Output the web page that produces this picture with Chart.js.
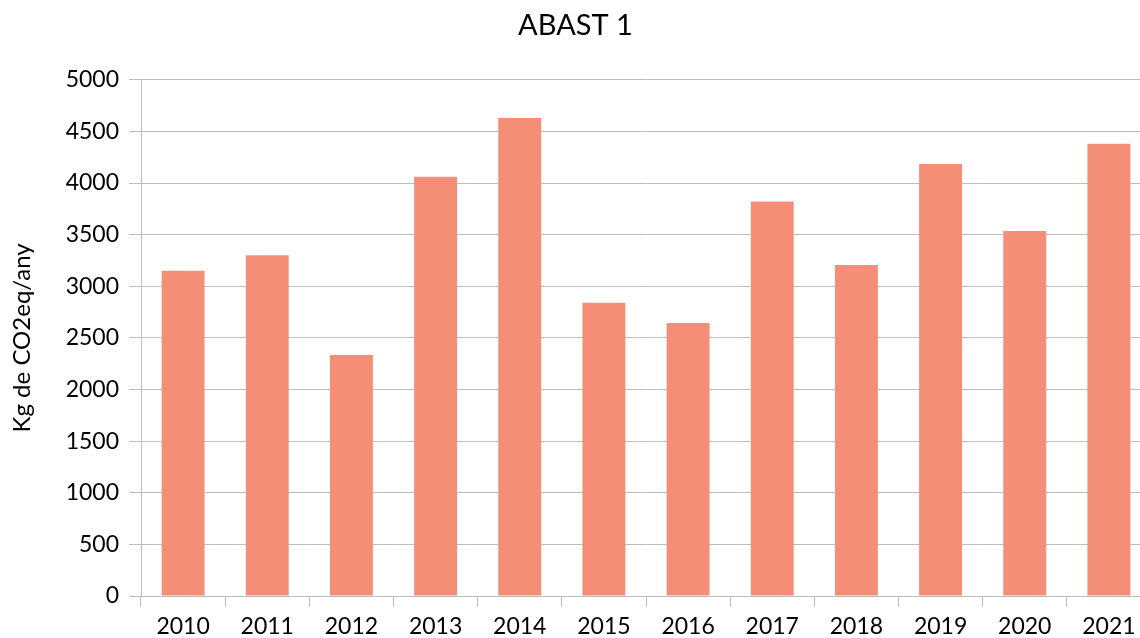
<!DOCTYPE html>
<html>
<head>
<meta charset="utf-8">
<script src="https://cdn.jsdelivr.net/npm/chart.js@4/dist/chart.umd.min.js"></script>
<style>
  html, body { margin: 0; padding: 0; background: #fff; overflow: hidden; }
  #wrap { width: 1140px; height: 638px; overflow: hidden; }
</style>
</head>
<body>
<div id="wrap"><canvas id="grafic" width="1151" height="638"></canvas></div>
<script>
// dades llegides del gràfic
const anys = ["2010", "2011", "2012", "2013", "2014", "2015", "2016", "2017", "2018", "2019", "2020", "2021"];
const emissions = [3150, 3300, 2335, 4060, 4630, 2840, 2645, 3820, 3205, 4185, 3535, 4380];
const titol = "ABAST 1";
const titolEix = "Kg de CO2eq/any";

const colorBarra = "#F58E76";
const colorGris = "#BDBDBD";
const lletra = "Lato";

const config = {
	type: "bar",
	data: {
		labels: anys,
		datasets: [{
			label: titol,
			data: emissions,
			backgroundColor: colorBarra,
			borderWidth: 0,
			barPercentage: 0.51,
			categoryPercentage: 1
		}]
	},
	options: {
		responsive: false,
		animation: false,
		layout: { padding: { top: 0, right: 0, bottom: 0, left: 0 } },
		plugins: {
			legend: { display: false },
			tooltip: { enabled: false },
			title: {
				display: true,
				text: titol,
				color: "#000",
				font: { family: lletra, size: 29, weight: "normal" },
				padding: { top: 8, bottom: 37 }
			}
		},
		scales: {
			x: {
				grid: {
					offset: true,
					drawOnChartArea: false,
					color: colorGris,
					tickLength: 11
				},
				border: { display: true, color: colorGris, width: 1 },
				ticks: {
					color: "#000",
					font: { family: lletra, size: 23 },
					padding: 6,
					maxRotation: 0,
					autoSkip: false
				},
				afterFit: (scale) => { scale.height = 42; }
			},
			y: {
				min: 0,
				max: 5000,
				grid: { color: colorGris, tickLength: 12 },
				border: { display: true, color: colorGris, width: 1 },
				ticks: {
					stepSize: 500,
					color: "#000",
					font: { family: lletra, size: 23 },
					padding: 10,
					callback: (valor) => String(valor)
				},
				title: {
					display: true,
					text: titolEix,
					color: "#000",
					font: { family: lletra, size: 24 },
					padding: { top: 8, bottom: 0 }
				},
				afterFit: (scale) => { scale.width = 141; }
			}
		}
	}
};

const grafic = new Chart(document.getElementById("grafic"), config);
</script>
</body>
</html>
